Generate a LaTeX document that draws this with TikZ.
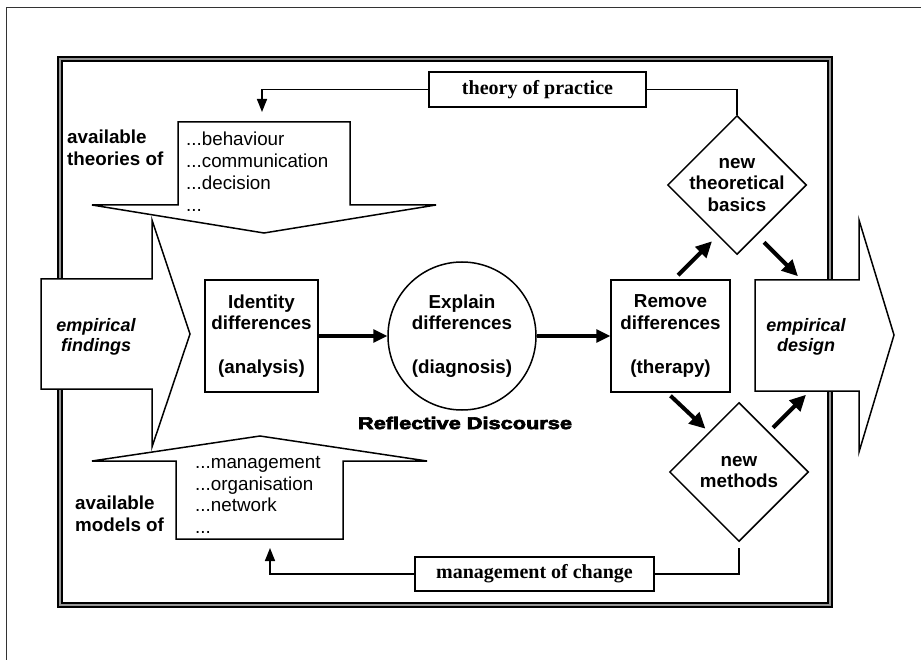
\documentclass[tikz,border=0pt]{standalone}
\usepackage{fontspec}
\setmainfont{Liberation Serif}
\setsansfont{Liberation Sans}
\newfontfamily\heavyfont[FakeBold=3.5]{Liberation Sans}
\usetikzlibrary{positioning,arrows.meta,shapes.geometric}
\definecolor{framegray}{RGB}{150,150,150}

\begin{document}
\begin{tikzpicture}[x=1pt, y=-1pt,
    every node/.style={font=\sffamily\bfseries\fontsize{18.8}{21.8}\selectfont, align=center},
    box/.style={draw, line width=1.5pt, minimum width=113pt, minimum height=112pt, inner sep=0pt},
    dia/.style={draw, diamond, line width=1.5pt, minimum width=139pt, minimum height=139pt, inner sep=0pt},
    tag/.style={draw, line width=1.5pt, inner sep=0pt, font=\rmfamily\bfseries\fontsize{20}{24}\selectfont},
    list/.style={font=\sffamily\fontsize{18.8}{21.8}\selectfont, align=left, anchor=north west, inner sep=0pt},
    side/.style={align=left, anchor=west, inner sep=0pt},
    conn/.style={line width=1.5pt},
    flow/.style={line width=3pt, -{Triangle[length=14pt,width=13pt]}},
    bigflow/.style={line width=4pt, -{Triangle[length=16pt,width=15pt]}},
    blockarr/.style={draw, fill=white, line width=1.5pt, line join=miter}]
    \useasboundingbox (0,0) rectangle (921,660);
    % outer frame and double frame
    \draw[line width=0.8pt, black!80] (6,660) -- (6,7) -- (921,7);
    \draw[line width=1.6pt, double=framegray, double distance=2pt] (60,59) rectangle (830,605);

    % side arrows
    \draw[blockarr] (41,279) -- (152,279) -- (152,220) -- (190,334) -- (152,447) -- (152,389) -- (41,389) -- cycle;
    \draw[blockarr] (755,280) -- (859,280) -- (859,220) -- (894,335) -- (859,452) -- (859,391) -- (755,391) -- cycle;
    \node[font=\sffamily\bfseries\itshape\fontsize{18}{20.5}\selectfont] (findings) at (96,337) {empirical\\findings};
    \node[font=\sffamily\bfseries\itshape\fontsize{18}{20.5}\selectfont] (design) at (806,337) {empirical\\design};

    % theory and model arrows
    \draw[blockarr] (178,122) -- (350,122) -- (350,205) -- (436,205) -- (264,233) -- (92,205) -- (178,205) -- cycle;
    \draw[blockarr] (176,539) -- (343,539) -- (343,461) -- (427,461) -- (260,436) -- (92,461) -- (176,461) -- cycle;
    \node[side] (theories) at (67,148) {available\\theories of};
    \node[list] (theorylist) at (186,132) {...behaviour\\...communication\\...decision\\...};
    \node[side] (models) at (75,514) {available\\models of};
    \node[list] (modellist) at (195,456) {...management\\...organisation\\...network\\...};

    % reflective discourse
    \node[box] (identify) at (261.5,336) {Identity\\differences\\[21.8pt](analysis)};
    \node[draw, circle, line width=1.5pt, minimum size=148pt, inner sep=0pt] (explain) at (462,336) {Explain\\differences\\[21.8pt](diagnosis)};
    \node[box, minimum width=119pt] (remove) at (670.5,336) {Remove\\differences\\[21.8pt](therapy)};
    \node[font=\heavyfont\bfseries\fontsize{17}{20}\selectfont] (discourse) at (465,423) {\scalebox{1.28}[1]{Reflective Discourse}};
    \draw[flow] (identify) -- (explain);
    \draw[flow] (explain) -- (remove);

    % new basics and methods
    \node[dia, label={[align=center]center:new\\theoretical\\basics}] (basics) at (737,185) {};
    \node[dia, label={[align=center]center:new\\methods}] (methods) at (739,472) {};
    \draw[bigflow] ([xshift=7.5pt, yshift=4pt]remove.north) -- ++(34,-34);
    \draw[bigflow] ([xshift=27pt, yshift=13pt]basics.south) -- ++(34,34);
    \draw[bigflow] ([yshift=-3pt]remove.south) -- ++(35,33);
    \draw[bigflow] ([xshift=34pt, yshift=-26pt]methods.north) -- ++(33,-33);

    % feedback loops
    \node[tag, minimum width=217pt, minimum height=35pt] (practice) at (537.5,89.5) {theory of practice};
    \node[tag, minimum width=239pt, minimum height=34pt] (change) at (534.5,574) {management of change};
    \coordinate (theoryin) at (262,112);
    \coordinate (modelin) at (270,548);
    \draw[conn] (practice.east) -| (basics.north);
    \draw[conn, -{Triangle[length=13pt,width=10pt]}] (practice.west) -| (theoryin);
    \draw[conn, shorten >=6pt] (change.east) -| (methods.south);
    \draw[conn, -{Triangle[length=13pt,width=10pt]}] (change.west) -| (modelin);
\end{tikzpicture}
\end{document}
